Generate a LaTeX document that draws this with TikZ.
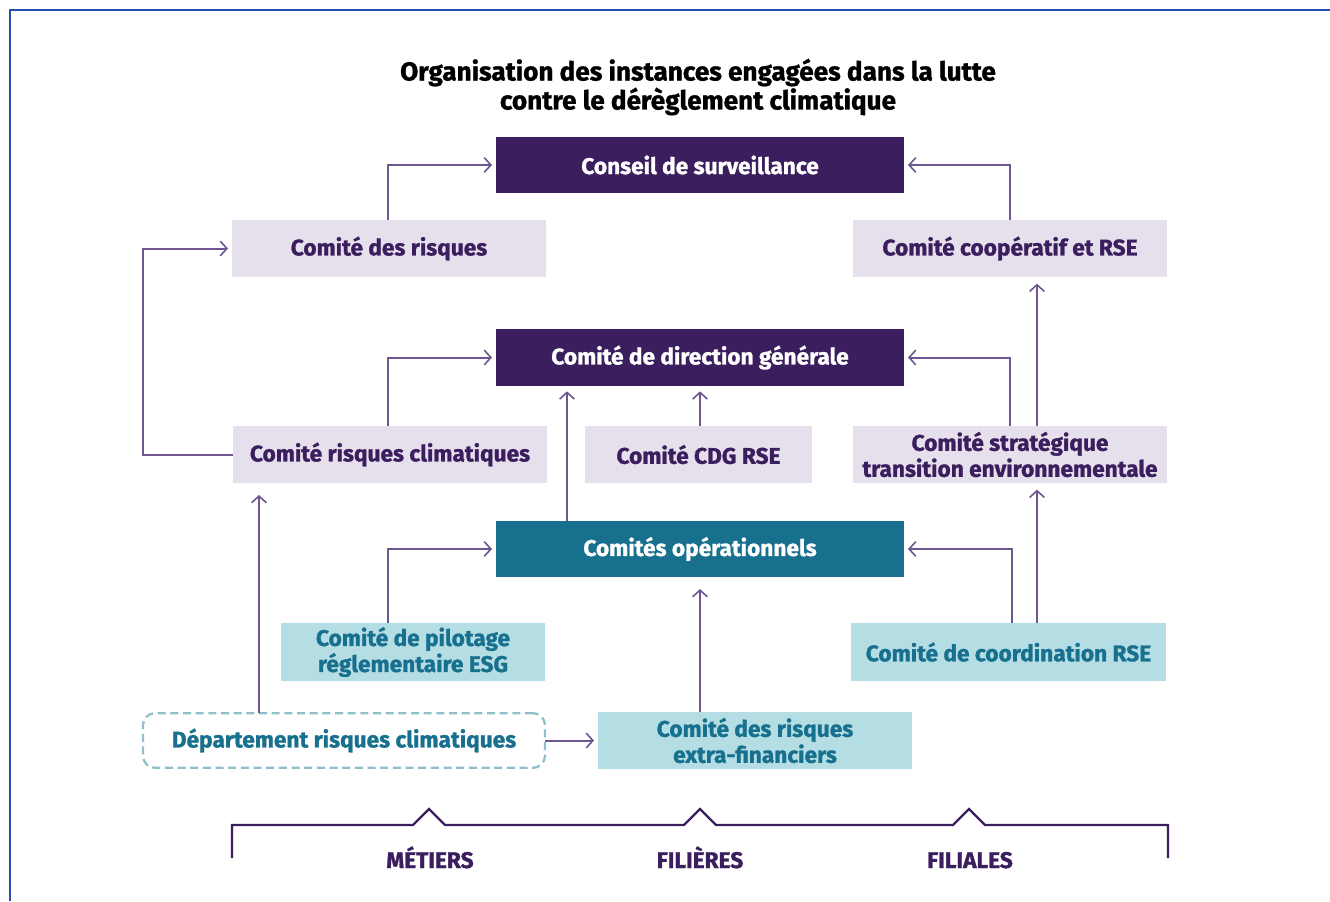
\documentclass[tikz,border=0pt]{standalone}
\usepackage{fontspec}
\setmainfont{Fira Sans}[BoldFeatures={FakeBold=1.2}]
\usetikzlibrary{arrows.meta}
\definecolor{deepviolet}{HTML}{3B1E5E}
\definecolor{lavender}{HTML}{E6E0ED}
\definecolor{deepteal}{HTML}{17708E}
\definecolor{paleteal}{HTML}{B5DDE4}
\definecolor{linkviolet}{HTML}{6F5690}
\definecolor{dashteal}{HTML}{8EC0CA}
\definecolor{framebl}{HTML}{2A4DB5}
\begin{document}
\begin{tikzpicture}[x=0.75pt,y=-0.75pt,
  every node/.style={inner sep=0pt,outer sep=0pt,align=center,font=\bfseries\fontsize{17}{19.5}\selectfont},
  topbox/.style={fill=deepviolet,text=white,minimum width=306pt,minimum height=42pt},
  midbox/.style={fill=lavender,text=deepviolet,minimum width=235.5pt,minimum height=42.75pt},
  opbox/.style={fill=deepteal,text=white,minimum width=306pt,minimum height=42pt},
  lowbox/.style={fill=paleteal,text=deepteal,minimum width=235.5pt,minimum height=43pt},
  dashbox/.style={draw=dashteal,line width=1.7pt,dash pattern=on 6pt off 3.5pt,rounded corners=9pt,text=deepteal,minimum width=301.5pt,minimum height=41pt},
  link/.style={draw=linkviolet,line width=1.5pt,-{Straight Barb[length=5pt,width=11pt,line width=1.2pt]}},
  tag/.style={text=deepviolet,anchor=base,font=\bfseries\fontsize{17}{19}\selectfont}]
\useasboundingbox (0,0) rectangle (1330,901);
% frame edges
\draw[framebl,line width=1.2pt] (10,901) -- (10,10) -- (1330,10);

% title
\node[font=\bfseries\fontsize{19.6}{20.5}\selectfont] (title) at (698,87)
  {Organisation des instances engagées dans la lutte\\contre le dérèglement climatique};

% governance boxes
\node[topbox] (conseil) at (700,165) {Conseil de surveillance};
\node[midbox] (risques) at (389,248.5) {Comité des risques};
\node[midbox] (coop) at (1010,248.5) {Comité coopératif et RSE};
\node[topbox,minimum height=42.75pt] (dg) at (700,357.5) {Comité de direction générale};
\node[midbox] (crc) at (390,454.5) {Comité risques climatiques};
\node[midbox,minimum width=170.25pt] (cdg) at (698.5,454.5) {Comité CDG RSE};
\node[midbox] (strat) at (1010,454.5) {Comité stratégique\\transition environnementale};
\node[opbox] (oper) at (700,549) {Comités opérationnels};
\node[lowbox,minimum width=198pt] (pilot) at (413,652) {Comité de pilotage\\réglementaire ESG};
\node[lowbox,minimum width=236pt] (coord) at (1008.5,652) {Comité de coordination RSE};
\node[dashbox] (dept) at (344,740.5) {Département risques climatiques};
\node[lowbox] (extra) at (755,740.5) {Comité des risques\\extra-financiers};

% links
\draw[link,shorten >=3pt] (risques.north -| 388,0) |- (conseil.west);
\draw[link,shorten >=3pt] (coop.north) |- (conseil.east);
\draw[link,shorten >=3pt] (crc.west) -- (143,454.5) |- (risques.west);
\draw[link,shorten >=3pt] (crc.north -| 388,0) |- (dg.west);
\draw[link,shorten >=4pt] (oper.north -| 567,0) -- (dg.south -| 567,0);
\draw[link,shorten >=4pt] (cdg.north -| 700,0) -- (dg.south -| 700,0);
\draw[link,shorten >=3pt] (strat.north) |- (dg.east);
\draw[link,shorten >=5pt] (strat.north -| 1037,0) -- (coop.south -| 1037,0);
\draw[link,shorten >=3pt] (pilot.north -| 388,0) |- (oper.west);
\draw[link,shorten >=3pt] (coord.north -| 1012,0) |- (oper.east);
\draw[link,shorten >=5pt] (coord.north -| 1037,0) -- (strat.south -| 1037,0);
\draw[link,shorten >=9pt] (extra.north -| 700,0) -- (oper.south -| 700,0);
\draw[link,shorten >=9pt] (dept.north -| 259,0) -- (crc.south -| 259,0);
\draw[link,shorten >=3pt] (dept.east) -- (extra.west);

% bottom brace with three peaks
\draw[deepviolet,line width=1.8pt,line join=miter]
  (232,858) -- (232,825) -- (413,825) -- (429,809) -- (445,825)
  -- (684,825) -- (700,809) -- (716,825)
  -- (953,825) -- (969,809) -- (985,825)
  -- (1168,825) -- (1168,858);
\node[tag] (metiers) at (430,868) {MÉTIERS};
\node[tag] (filieres) at (700,868) {FILIÈRES};
\node[tag] (filiales) at (970,868) {FILIALES};
\end{tikzpicture}
\end{document}
